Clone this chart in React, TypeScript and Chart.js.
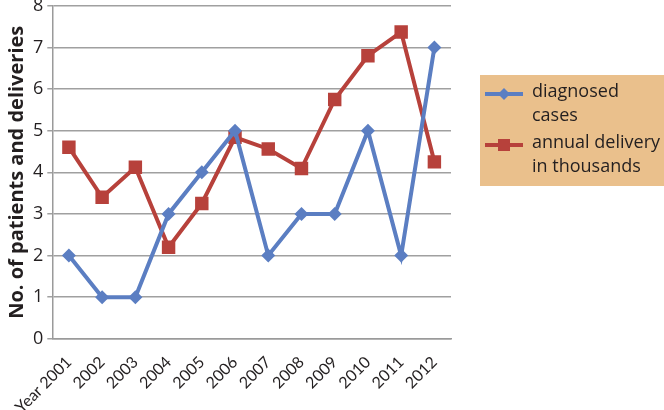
import React, { useEffect, useRef } from "react";
import { Chart, registerables } from "chart.js";

Chart.register(...registerables);

const years = ["Year 2001", "2002", "2003", "2004", "2005", "2006", "2007", "2008", "2009", "2010", "2011", "2012"];
const diagnosedCases = [2, 1, 1, 3, 4, 5, 2, 3, 3, 5, 2, 7];
const annualDelivery = [4.6, 3.4, 4.12, 2.2, 3.25, 4.84, 4.56, 4.09, 5.75, 6.8, 7.37, 4.25];
const seriesNames = [["diagnosed", "cases"], ["annual delivery", "in thousands"]];
const yTitle = "No. of patients and deliveries";

const BLUE = "#5B7EC2";
const RED = "#B7413B";
const FONT = "'Open Sans', sans-serif";
const XFONT = "Lato, 'Open Sans', sans-serif";
const SHIFT = 9;

const legendPlugin = {
  id: "boxLegend",
  afterDraw(chart: any) {
    const ctx = chart.ctx;
    ctx.save();
    ctx.translate(0, SHIFT);
    ctx.fillStyle = "#EAC08C";
    ctx.fillRect(480, 75, 184, 111);
    const items = [
      { color: BLUE, y: 94, shape: "diamond", lines: seriesNames[0] },
      { color: RED, y: 145, shape: "square", lines: seriesNames[1] },
    ];
    items.forEach((it) => {
      ctx.strokeStyle = it.color;
      ctx.lineWidth = 4;
      ctx.beginPath();
      ctx.moveTo(485, it.y);
      ctx.lineTo(523, it.y);
      ctx.stroke();
      ctx.fillStyle = it.color;
      ctx.beginPath();
      if (it.shape === "diamond") {
        const r = 6;
        ctx.moveTo(504 - r, it.y);
        ctx.lineTo(504, it.y - r);
        ctx.lineTo(504 + r, it.y);
        ctx.lineTo(504, it.y + r);
        ctx.closePath();
      } else {
        ctx.rect(498, it.y - 6, 12, 12);
      }
      ctx.fill();
      ctx.fillStyle = "#231F20";
      ctx.font = "18px " + FONT;
      ctx.textBaseline = "middle";
      ctx.textAlign = "left";
      it.lines.forEach((t: string, i: number) => {
        ctx.fillText(t, 532, it.y - 2 + i * 24);
      });
    });
    ctx.restore();
  },
};

export default function App() {
  const ref = useRef<HTMLCanvasElement>(null);
  useEffect(() => {
    if (!ref.current) return;
    const chart = new Chart(ref.current, {
      type: "line",
      data: {
        labels: years,
        datasets: [
          {
            label: seriesNames[0].join(" "),
            data: diagnosedCases,
            borderColor: BLUE,
            backgroundColor: BLUE,
            borderWidth: 4,
            pointStyle: "rectRot",
            pointRadius: 7,
            pointBorderWidth: 0,
            tension: 0,
          },
          {
            label: seriesNames[1].join(" "),
            data: annualDelivery,
            borderColor: RED,
            backgroundColor: RED,
            borderWidth: 4,
            pointStyle: "rect",
            pointRadius: 9.5,
            pointBorderWidth: 0,
            tension: 0,
          },
        ],
      },
      options: {
        responsive: false,
        animation: false,
        layout: { padding: { top: 0, right: 213, left: 5, bottom: -13 } },
        plugins: { legend: { display: false }, tooltip: { enabled: false } },
        scales: {
          x: {
            offset: true,
            grid: { display: false },
            border: { color: "#9A9A9A", width: 1.5 },
            ticks: {
              color: "#231F20",
              font: { family: XFONT, size: 16 },
              minRotation: 45,
              maxRotation: 45,
              padding: 6,
            },
          },
          y: {
            min: 0,
            max: 8,
            grid: { color: "#A0A0A0", lineWidth: 1.5, tickLength: 5 },
            border: { color: "#9A9A9A", width: 1.5 },
            ticks: {
              stepSize: 1,
              color: "#231F20",
              font: { family: FONT, size: 18 },
              padding: 4,
            },
            title: {
              display: true,
              text: yTitle,
              color: "#231F20",
              font: { family: FONT, size: 20, weight: "bold" },
              padding: 0,
            },
          },
        },
      },
      plugins: [legendPlugin],
    });
    return () => chart.destroy();
  }, []);
  return (
    <div style={{ position: "fixed", left: 0, top: 0, width: 664, height: 410, background: "#fff", overflow: "hidden" }}>
      <canvas ref={ref} width={664} height={410 + SHIFT} style={{ position: "absolute", left: 0, top: -SHIFT }} />
    </div>
  );
}
